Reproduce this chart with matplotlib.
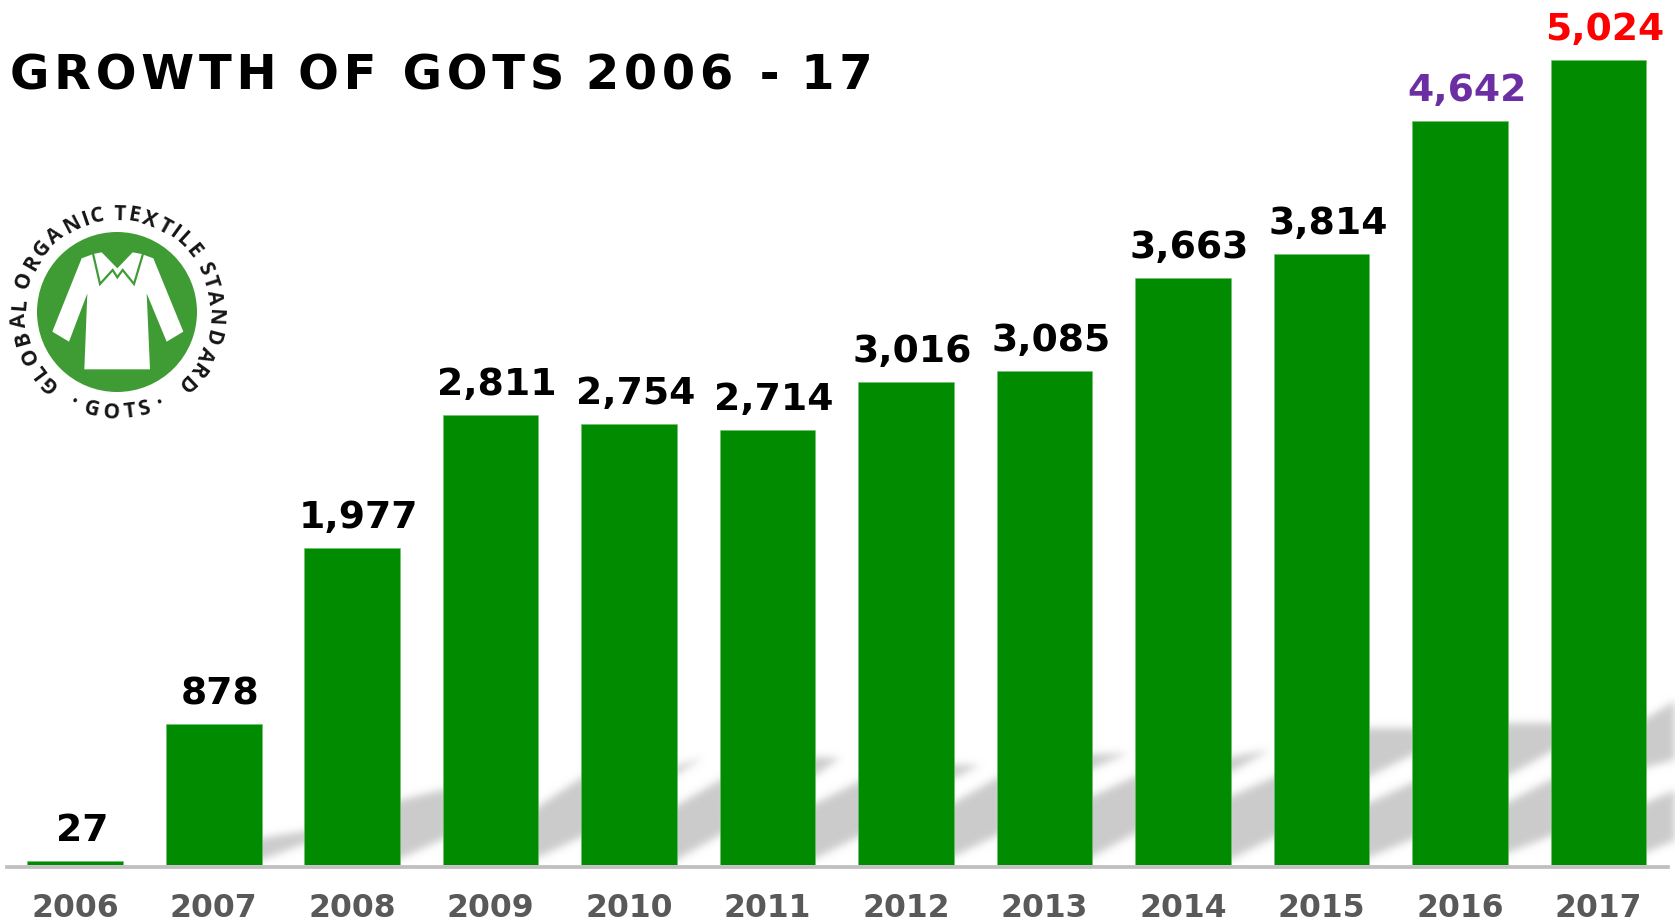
import matplotlib

matplotlib.use("Agg")
import matplotlib.pyplot as plt
import numpy as np
from matplotlib.font_manager import FontProperties
from matplotlib.patches import Circle, Polygon
from matplotlib.textpath import TextToPath

years = ["2006", "2007", "2008", "2009", "2010", "2011", "2012", "2013", "2014", "2015", "2016", "2017"]
certified = [27, 878, 1977, 2811, 2754, 2714, 3016, 3085, 3663, 3814, 4642, 5024]
label_colors = ["black"] * 10 + ["#6b2fa3", "#ff0000"]
title = "GROWTH OF GOTS 2006 - 17"

W, H = 1675, 921
BASE_Y = 865
PX_PER_UNIT = 804.7 / 5024
BAR_GREEN = "#008b00"
LOGO_GREEN = "#3f9c35"
SHADOW_GRAY = "#cbcbcb"

# background shadow bands, in picture pixels: x0, x1, top at x0, top at x1, bottom at x0, bottom at x1
shadow_bands = [
    (255, 312, 839, 830, 862, 841),
    (392, 450, 802, 788, 862, 836),
    (530, 590, 812, 772, 861, 833),
    (669, 727, 810, 776, 864, 831),
    (808, 866, 807, 778, 862, 833),
    (946, 1004, 807, 774, 860, 832),
    (1084, 1143, 800, 773, 861, 829),
    (1225, 1283, 799, 773, 862, 833),
    (1362, 1420, 806, 779, 860, 836),
    (1500, 1558, 806, 776, 856, 833),
    (1640, 1680, 805, 788, 855, 838),
    # upper bands, only in the taller part of the chart
    (1362, 1420, 728, 728, 780, 751),
    (1500, 1558, 723, 723, 780, 748),
    (1640, 1680, 722, 698, 769, 758),
]
# the small wedges that fade out inside a gap: three corners each
shadow_wedges = [
    [(670, 768), (703, 758), (670, 778)],
    [(808, 757), (840, 758), (808, 780)],
    [(946, 765), (980, 765), (946, 782)],
    [(1084, 755), (1128, 753), (1084, 772)],
    [(1225, 758), (1270, 750), (1225, 775)],
]

shirt_outline = [
    (157, 425), (245, 205), (280, 192), (305, 187), (352, 235), (398, 187), (425, 192),
    (460, 205), (550, 425), (500, 455), (440, 310), (450, 538), (253, 538), (262, 310), (207, 455),
]
collar_line = [(280, 195), (300, 282), (338, 240), (352, 262), (368, 240), (402, 282), (428, 195)]


def blur(image, dpi, sigma=4.0):
    # soft edges for the shadows, keeps the colour and only smooths alpha
    pad = int(sigma * 3)
    xs = np.arange(-pad, pad + 1)
    kernel = np.exp(-(xs**2) / (2 * sigma**2))
    kernel /= kernel.sum()
    alpha = np.pad(image[:, :, 3], pad)
    alpha = np.apply_along_axis(np.convolve, 0, alpha, kernel, mode="same")
    alpha = np.apply_along_axis(np.convolve, 1, alpha, kernel, mode="same")
    out = np.zeros(alpha.shape + (4,))
    out[:, :, :3] = matplotlib.colors.to_rgb(SHADOW_GRAY)
    out[:, :, 3] = alpha
    return out, -pad, -pad


def crop_to_px(points):
    return [(x / 3, 190 + y / 3) for x, y in points]


def curved_text(ax, text, center, radius, start, end, size, bottom=False):
    # one glyph at a time around the ring, angles are clockwise from the top
    prop = FontProperties(family="Open Sans", weight="bold", size=size)
    conv = TextToPath()
    widths = [conv.get_text_width_height_descent(c, prop, False)[0] for c in text]
    total = sum(widths)
    used = 0
    for c, w in zip(text, widths):
        angle = start + (used + w / 2) / total * (end - start)
        used += w
        rad = np.radians(angle)
        x = center[0] + radius * np.sin(rad)
        y = center[1] - radius * np.cos(rad)
        rotation = 180 - angle if bottom else -angle
        ax.text(x, y, c, fontproperties=prop, color="#151515", ha="center", va="center",
                rotation=rotation, rotation_mode="anchor")


fig = plt.figure(figsize=(W / 100, H / 100), dpi=100, facecolor="white")

# full figure layer in picture pixels for the shadows, logo and title
bg = fig.add_axes([0, 0, 1, 1], zorder=0)
bg.set_xlim(0, W)
bg.set_ylim(H, 0)
bg.axis("off")

for x0, x1, top0, top1, bot0, bot1 in shadow_bands:
    band = Polygon([(x0, top0), (x1, top1), (x1, bot1), (x0, bot0)], facecolor=SHADOW_GRAY, edgecolor="none")
    band.set_agg_filter(blur)
    bg.add_patch(band)
for wedge in shadow_wedges:
    patch = Polygon(wedge, facecolor=SHADOW_GRAY, edgecolor="none")
    patch.set_agg_filter(blur)
    bg.add_patch(patch)

logo_center = (117, 312)
bg.add_patch(Circle(logo_center, 80, facecolor=LOGO_GREEN, edgecolor="none"))
bg.add_patch(Polygon(crop_to_px(shirt_outline), facecolor="white", edgecolor="none"))
collar = np.array(crop_to_px(collar_line))
bg.plot(collar[:, 0], collar[:, 1], color=LOGO_GREEN, lw=1.6, solid_joinstyle="miter")
curved_text(bg, "GLOBAL ORGANIC TEXTILE STANDARD", logo_center, 97.5, -142, 142, 15)
curved_text(bg, "· GOTS ·", logo_center, 101, 208, 152, 15, bottom=True)

# letter spaced title, some word gaps are a little tighter
spaced = "\u200a".join(title).replace("H\u200a ", "H ").replace("-\u200a ", "- ").replace("S\u200a ", "S ")
bg.text(10, 90, spaced, fontsize=34.6, fontweight="bold", color="black", ha="left", va="baseline")

# bars sit on a pixel exact axes so the values land on the right heights
ax = fig.add_axes([7 / W, (H - BASE_Y) / H, (1668 - 7) / W, BASE_Y / H], zorder=1)
ax.patch.set_visible(False)
x = np.arange(len(years))
ax.bar(x, certified, width=0.69, color=BAR_GREEN, edgecolor="#6fbf6f", linewidth=0.4)
ax.set_xlim(-0.493, 11.502)
ax.set_ylim(0, BASE_Y / PX_PER_UNIT)

for i, v in enumerate(certified):
    ax.annotate(f"{v:,}", (i, v), xytext=(4.7, 14.4), textcoords="offset points", ha="center", va="baseline",
                fontsize=27.2, fontweight="bold", color=label_colors[i], annotation_clip=False)

for side in ["top", "left", "right"]:
    ax.spines[side].set_visible(False)
ax.spines["bottom"].set_color("#c0c0c0")
ax.spines["bottom"].set_linewidth(2.7)
ax.spines["bottom"].set_position(("outward", 1.4))

# set_position resets the ticks, so the tick styling has to come after it
ax.set_xticks(x, years, fontsize=22.7, fontweight="bold", color="#595959")
ax.tick_params(axis="x", length=0, pad=18.5)
ax.set_yticks([])

fig.savefig("out.png", dpi=100)
